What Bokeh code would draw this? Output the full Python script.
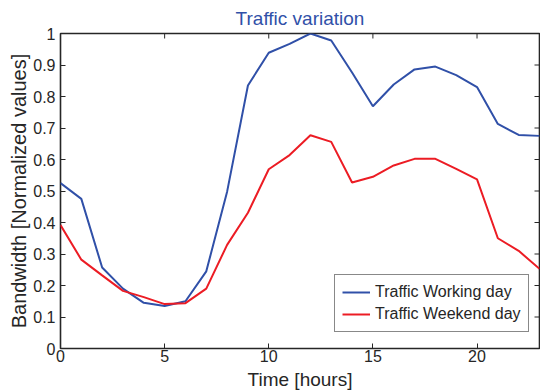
import math
from bokeh.plotting import figure
from bokeh.models import Range1d, FixedTicker, Legend, LegendItem, Title
from bokeh.embed import file_html
from bokeh.resources import INLINE

# ---- data ----
hours = list(range(24))
working_day = [0.525, 0.475, 0.257, 0.190, 0.145, 0.135, 0.150, 0.245, 0.498, 0.835,
               0.939, 0.967, 1.000, 0.978, 0.876, 0.769, 0.838, 0.886, 0.895, 0.868,
               0.830, 0.713, 0.678, 0.675]
weekend_day = [0.392, 0.282, 0.232, 0.183, 0.163, 0.141, 0.144, 0.190, 0.329, 0.431,
               0.569, 0.614, 0.677, 0.656, 0.527, 0.545, 0.581, 0.602, 0.602, 0.570,
               0.537, 0.350, 0.310, 0.253]
x_ticks = [0, 5, 10, 15, 20]
y_ticks = [0, 0.1, 0.2, 0.3, 0.4, 0.5, 0.6, 0.7, 0.8, 0.9, 1.0]
y_tick_labels = ["0", "0.1", "0.2", "0.3", "0.4", "0.5", "0.6", "0.7", "0.8", "0.9", "1"]
title_text = "Traffic variation"
x_label = "Time [hours]"
y_label = "Bandwidth [Normalized values]"
series_names = ["Traffic Working day", "Traffic Weekend day"]

# ---- style ----
FONT = "Liberation Sans"
INK = "#262626"
BLUE = "#3050a8"
RED = "#ec1c24"

p = figure(width=540, height=391, output_backend="svg", toolbar_location=None,
           x_range=Range1d(0, 23), y_range=Range1d(0, 1),
           min_border_left=60, min_border_right=1, min_border_top=0, min_border_bottom=0)
p.background_fill_color = "white"
p.border_fill_color = "white"
p.outline_line_color = INK
p.outline_line_width = 1.6
p.grid.visible = False

p.title.text = title_text
p.title.align = "center"
p.title.text_font = FONT
p.title.text_font_size = "19px"
p.title.text_font_style = "normal"
p.title.text_color = BLUE
p.title.standoff = 10
p.title.offset = 0

for ax in (p.xaxis[0], p.yaxis[0]):
    ax.axis_line_color = None
    ax.major_tick_in = 5
    ax.major_tick_out = 0
    ax.major_tick_line_color = INK
    ax.major_tick_line_width = 1
    ax.minor_tick_line_color = None
    ax.major_label_text_font = FONT
    ax.major_label_text_font_size = "16px"
    ax.major_label_text_color = INK
    ax.axis_label_text_font = FONT
    ax.axis_label_text_font_style = "normal"
    ax.axis_label_text_color = INK

p.xaxis[0].ticker = FixedTicker(ticks=x_ticks)
p.xaxis[0].major_label_standoff = 1

# x-axis title as a "below" title so its spacing can be set tightly
p.add_layout(Title(text=x_label, align="center", text_font=FONT, text_font_size="19px",
                   text_font_style="normal", text_color=INK, standoff=4, offset=0),
             "below")

p.yaxis[0].ticker = FixedTicker(ticks=y_ticks)
p.yaxis[0].major_label_overrides = dict(zip(y_ticks, y_tick_labels))
p.yaxis[0].major_label_standoff = 5
p.yaxis[0].axis_label = y_label
p.yaxis[0].axis_label_text_font_size = "20px"
p.yaxis[0].axis_label_standoff = 0

# inward box ticks on the top and right edges (MATLAB style); half of each dash
# falls outside the frame and is clipped away
p.scatter(x_ticks, [p.y_range.end] * len(x_ticks), marker="dash", angle=math.pi / 2,
          size=10, line_color=INK, line_width=1)
p.scatter([p.x_range.end] * len(y_ticks), y_ticks, marker="dash", angle=0,
          size=10, line_color=INK, line_width=1)

r1 = p.line(hours, working_day, line_color=BLUE, line_width=2)
r2 = p.line(hours, weekend_day, line_color=RED, line_width=2)

legend = Legend(items=[LegendItem(label=series_names[0], renderers=[r1]),
                       LegendItem(label=series_names[1], renderers=[r2])],
                location=(274, 16), orientation="vertical",
                label_text_font=FONT, label_text_font_size="16px", label_text_color=INK,
                glyph_width=28, glyph_height=20, label_height=20, label_standoff=5,
                padding=7, spacing=2, margin=0,
                border_line_color="#111111", border_line_width=1,
                background_fill_color="white", background_fill_alpha=1.0)
p.add_layout(legend, "center")

open("out.html", "w").write(file_html(p, INLINE))
